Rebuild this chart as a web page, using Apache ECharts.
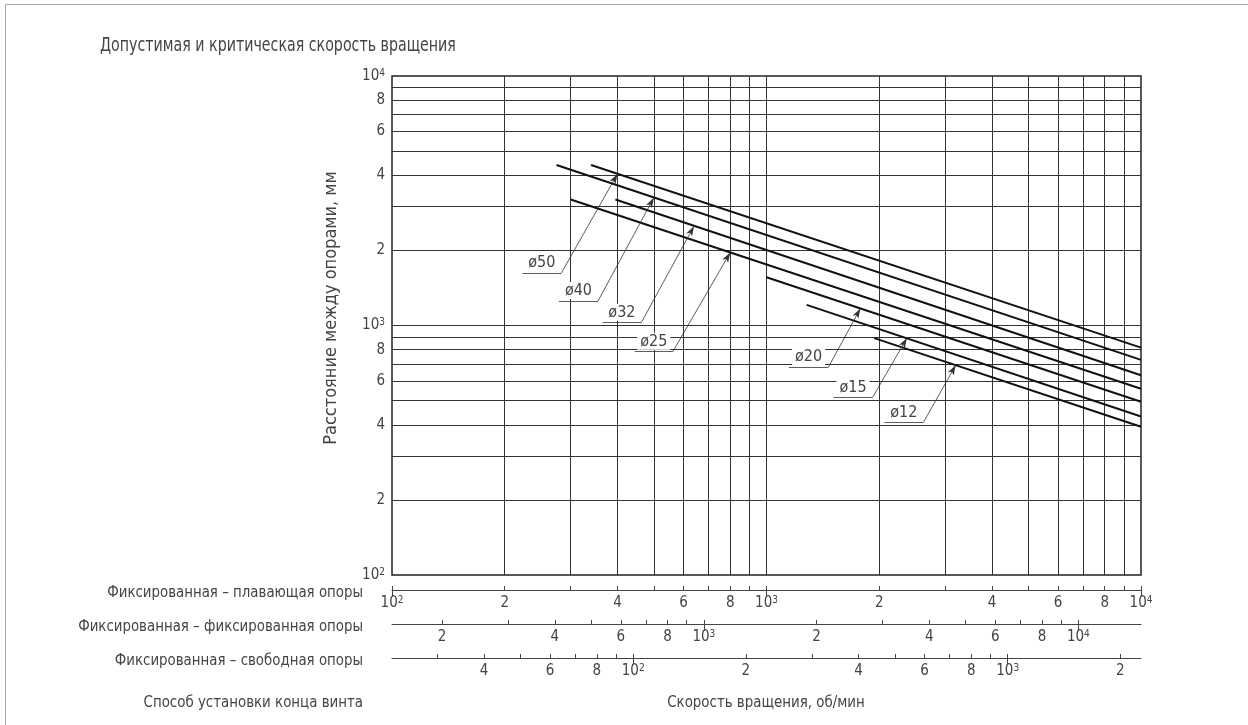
<!DOCTYPE html>
<html>
<head>
<meta charset="utf-8">
<title>Допустимая и критическая скорость вращения</title>
<script src="https://cdn.jsdelivr.net/npm/echarts@6/dist/echarts.min.js"></script>
<style>
html, body { margin: 0; padding: 0; background: #fff; }
#chart { width: 1248px; height: 725px; }
</style>
</head>
<body>
<div id="chart"></div>
<script>
// диаметры винтов
var diameters = ['ø50', 'ø40', 'ø32', 'ø25', 'ø20', 'ø15', 'ø12'];
// начало и конец каждой линии: [скорость об/мин, расстояние мм]
var lineStart = [[340, 4400], [275, 4400], [395, 3200], [300, 3200], [1000, 1560], [1280, 1210], [1940, 890]];
var lineEnd = [[10000, 815], [10000, 728], [10000, 632], [10000, 558], [10000, 495], [10000, 432], [10000, 393]];
// выноски: начало полки, излом, острие стрелки
var labelStart = [[223, 1619], [279, 1254], [365, 1026], [445, 785], [1147, 680], [1509, 515], [2064, 408]];
var labelElbow = [[283, 1619], [355, 1254], [463, 1026], [562, 785], [1463, 680], [1920, 515], [2622, 408]];
var labelTip = [[400, 4050], [500, 3250], [640, 2500], [800, 1960], [1780, 1170], [2370, 890], [3200, 693]];

// шкалы скорости для способов установки
var scaleNames = ['Фиксированная – плавающая опоры', 'Фиксированная – фиксированная опоры', 'Фиксированная – свободная опоры'];
var scaleMin = [100, 147, 22.7];
var scaleMax = [10000, 14700, 2270];
var scaleTop = [589, 623, 657];

var tickDigits = [1, 2, 3, 4, 5, 6, 7, 8, 9];
var labelDigits = [1, 2, 4, 6, 8];

var FONT = '"Liberation Sans Narrow", "DejaVu Sans Condensed", "Roboto Condensed", sans-serif';
var TEXT = '#444';

function values(min, max, digits, onlyMajor) {
	var out = [];
	for (var k = 1; k <= 4; k++) {
		for (var i = 0; i < digits.length; i++) {
			if (onlyMajor && digits[i] !== 1) continue;
			var v = digits[i] * Math.pow(10, k);
			if (v >= min - 1e-6 && v <= max + 1e-6) out.push(v);
		}
	}
	return out;
}

// 10^n с верхним индексом, иначе первая цифра
function fmt(v) {
	var e = Math.floor(Math.log10(v) + 1e-9);
	var d = Math.round(v / Math.pow(10, e));
	if (d === 1) return '{b|10}{s|' + e + '}';
	return '{b|' + d + '}';
}

var rich = {
	b: { fontFamily: FONT, fontSize: 15, color: TEXT, lineHeight: 16 },
	s: { fontFamily: FONT, fontSize: 10, color: TEXT, lineHeight: 16, verticalAlign: 'top' }
};

var gridInner = values(100, 10000, tickDigits).filter(function (v) { return v > 100 && v < 10000; });
var mainLabels = values(100, 10000, labelDigits);

var grids = [{
	left: 392, top: 76, width: 749, height: 499,
	show: true, borderColor: '#222', borderWidth: 1.5,
	outerBoundsMode: 'none'
}];
var xAxes = [{
	type: 'log', gridIndex: 0, min: 100, max: 10000,
	axisLine: { show: false },
	axisTick: { show: false, customValues: gridInner },
	axisLabel: { show: false },
	splitLine: { show: true, lineStyle: { color: '#333', width: 1 } }
}];
var yAxes = [{
	type: 'log', gridIndex: 0, min: 100, max: 10000,
	axisLine: { show: false },
	axisTick: { show: false, customValues: gridInner },
	axisLabel: {
		customValues: mainLabels, formatter: fmt, margin: 7, rich: rich
	},
	splitLine: { show: true, lineStyle: { color: '#333', width: 1 } }
}];

scaleNames.forEach(function (name, i) {
	var g = i + 1;
	grids.push({ left: 392, width: 749, top: scaleTop[i], height: 1, outerBoundsMode: 'none' });
	yAxes.push({ type: 'value', gridIndex: g, show: false });
	// мелкие деления и подписи
	xAxes.push({
		type: 'log', gridIndex: g, min: scaleMin[i], max: scaleMax[i],
		axisLine: { show: true, lineStyle: { color: '#444', width: 1.2 } },
		axisTick: {
			show: true, inside: true, length: 4,
			customValues: values(scaleMin[i], scaleMax[i], tickDigits),
			lineStyle: { color: '#444', width: 1 }
		},
		axisLabel: {
			customValues: values(scaleMin[i], scaleMax[i], labelDigits),
			formatter: fmt, margin: 5, rich: rich
		},
		splitLine: { show: false }
	});
	// крупные деления на декадах
	xAxes.push({
		type: 'log', gridIndex: g, min: scaleMin[i], max: scaleMax[i],
		axisLine: { show: false },
		axisTick: {
			show: true, inside: true, length: 8,
			customValues: values(scaleMin[i], scaleMax[i], tickDigits, true),
			lineStyle: { color: '#444', width: 1 }
		},
		axisLabel: { show: false },
		splitLine: { show: false }
	});
});

var series = diameters.map(function (d, i) {
	return {
		name: d,
		type: 'line',
		xAxisIndex: 0,
		yAxisIndex: 0,
		data: [lineStart[i], lineEnd[i]],
		symbol: 'none',
		silent: true,
		lineStyle: { color: '#111', width: 2 },
		markLine: {
			silent: true,
			symbol: ['none', 'none'],
			lineStyle: { color: '#333', width: 0.8, type: 'solid' },
			data: [
				[{
					coord: labelStart[i],
					label: {
						show: true, position: 'insideMiddleTop', distance: 2,
						formatter: d, fontFamily: FONT, fontSize: 16, color: TEXT,
						backgroundColor: '#fff', padding: [1, 3, 0, 3]
					}
				}, { coord: labelElbow[i] }],
				[{ coord: labelElbow[i], label: { show: false } },
				 { coord: labelTip[i], symbol: 'arrow', symbolSize: [5, 10] }]
			]
		}
	};
});

function txt(str, x, y, align, size, sx, rot) {
	return {
		type: 'text', x: x, y: y, rotation: rot || 0, scaleX: sx, silent: true,
		style: {
			text: str, fill: TEXT, font: size + 'px ' + FONT,
			textAlign: align, textVerticalAlign: 'middle'
		}
	};
}

var graphics = [
	{ type: 'rect', silent: true, shape: { x: 5.5, y: 4.5, width: 1300, height: 800 },
	  style: { fill: 'none', stroke: '#aaa', lineWidth: 1 } },
	txt('Допустимая и критическая скорость вращения', 100, 46, 'left', 20, 0.79),
	txt('Расстояние между опорами, мм', 331, 308, 'center', 18, 1, Math.PI / 2),
	txt('Способ установки конца винта', 363, 703, 'right', 16, 0.93),
	txt('Скорость вращения, об/мин', 766, 703, 'center', 16, 0.93)
];
scaleNames.forEach(function (name, i) {
	graphics.push(txt(name, 363, scaleTop[i] + 4, 'right', 16.5, 0.9));
});

var chart = echarts.init(document.getElementById('chart'));
chart.setOption({
	animation: false,
	backgroundColor: '#fff',
	grid: grids,
	xAxis: xAxes,
	yAxis: yAxes,
	series: series,
	graphic: graphics
});
</script>
</body>
</html>
